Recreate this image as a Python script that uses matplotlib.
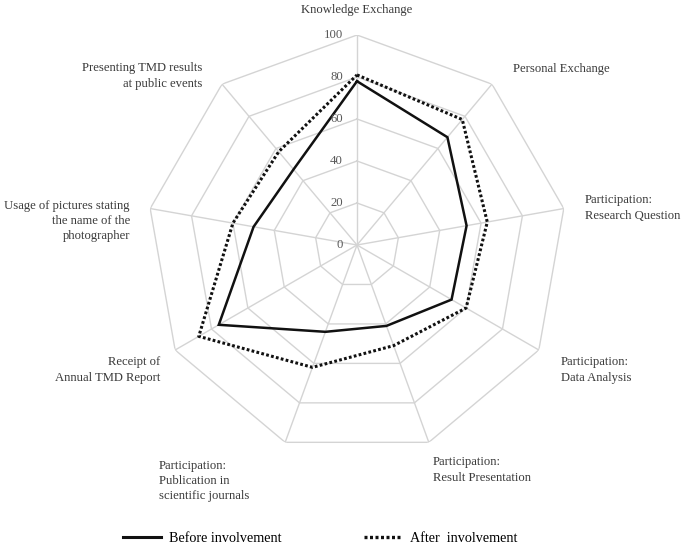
import numpy as np
import matplotlib
matplotlib.use("Agg")
import matplotlib.pyplot as plt
import matplotlib.transforms as mtransforms
from matplotlib.lines import Line2D

plt.rcParams['font.family'] = ['Liberation Serif', 'DejaVu Serif']

# --- data ---
categories = [
    "Knowledge Exchange",
    "Personal Exchange",
    "Participation:\nResearch Question",
    "Participation:\nData Analysis",
    "Participation:\nResult Presentation",
    "Participation:\nPublication in\nscientific journals",
    "Receipt of\nAnnual TMD Report",
    "Usage of pictures stating\nthe name of the\nphotographer",
    "Presenting TMD results\nat public events",
]
before = [78, 67, 53, 52, 41, 44, 76, 50, 47]
after = [81, 78, 63, 60, 51, 62, 87, 60, 58]
rings = [20, 40, 60, 80, 100]
tick_values = [0, 20, 40, 60, 80, 100]

n = len(categories)
angles = np.linspace(0, 2 * np.pi, n, endpoint=False)
closed = np.append(angles, angles[0])

fig = plt.figure(figsize=(6.85, 5.47), dpi=100)
ax = fig.add_axes([0.2146, 0.1682, 0.6131, 0.7678], projection='polar')
ax.set_theta_zero_location('N')
ax.set_theta_direction(-1)
ax.set_ylim(0, 100)
ax.grid(False)
ax.spines['polar'].set_visible(False)
ax.set_xticks([])
ax.set_yticks([])

grid_col = '#d4d4d4'
# polygon grid rings
for r in rings:
    ax.plot(closed, [r] * (n + 1), color=grid_col, lw=1.0, zorder=1)
# spokes
for a in angles:
    ax.plot([a, a], [0, 100], color=grid_col, lw=1.0, zorder=1)

# series
ax.plot(closed, before + before[:1], color='#111111', lw=1.8, zorder=3,
        solid_joinstyle='miter')
ax.plot(closed, after + after[:1], color='#111111', lw=2.2,
        linestyle=(0, (0.9, 0.75)), zorder=3)

# radial tick labels along the top spoke
offset = mtransforms.offset_copy(ax.transData, fig=fig, x=-14, y=0,
                                 units='dots')
for v in tick_values:
    ax.text(0, v, str(v), ha='right', va='center', fontsize=9.2,
            color='#595959', transform=offset)

# category labels (positions in figure pixels)
label_pos = [
    (357, 10, 'center'),
    (513, 69, 'left'),
    (585, 208, 'left'),
    (561, 370, 'left'),
    (433, 470, 'left'),
    (159, 481, 'left'),
    (160, 370, 'right'),
    (130, 221, 'right'),
    (202, 76, 'right'),
]
W, H = 685, 547
for lab, (x, y, ha) in zip(categories, label_pos):
    fig.text(x / W, 1 - y / H, lab, ha=ha, va='center', fontsize=9.1,
             color='#3a3a3a', linespacing=1.35, multialignment=ha)

# legend
handles = [
    Line2D([], [], color='#111111', lw=2.2),
    Line2D([], [], color='#111111', lw=2.4, linestyle=(0, (0.9, 0.75))),
]
fig.legend(handles, ["Before involvement", "After  involvement"],
           loc='lower left', bbox_to_anchor=(123 / W, 0.004), ncol=2,
           frameon=False, fontsize=10.2, handlelength=2.7, handletextpad=0.56,
           columnspacing=5.8, borderpad=0, borderaxespad=0)

fig.savefig("out.png", dpi=100)
